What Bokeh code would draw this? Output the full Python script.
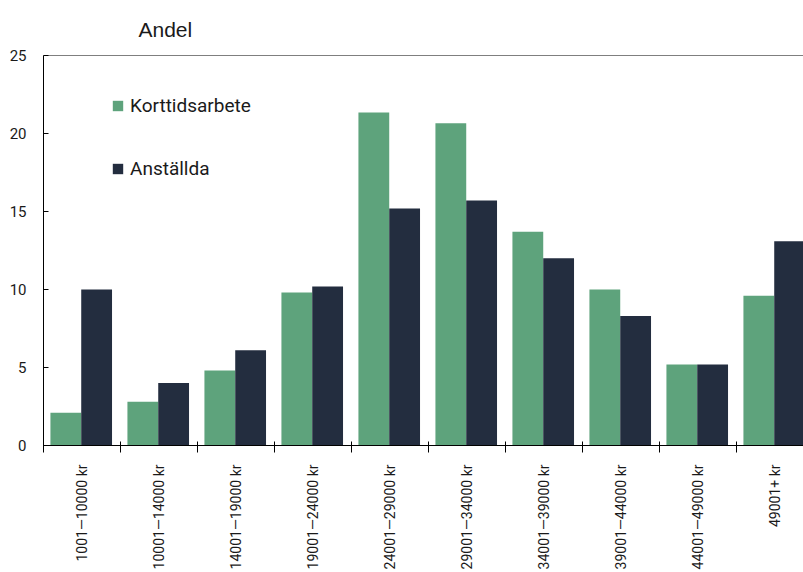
import math
from bokeh.plotting import figure
from bokeh.models import Range1d, LinearAxis, FixedTicker, Legend, LegendItem, ColumnDataSource, Span
from bokeh.embed import file_html
from bokeh.resources import INLINE

categories = ["1001—10000 kr", "10001—14000 kr", "14001—19000 kr", "19001—24000 kr",
              "24001—29000 kr", "29001—34000 kr", "34001—39000 kr", "39001—44000 kr",
              "44001—49000 kr", "49001+ kr"]
korttidsarbete = [2.1, 2.8, 4.8, 9.8, 21.35, 20.65, 13.7, 10.0, 5.2, 9.6]
anstallda = [10.0, 4.0, 6.1, 10.2, 15.2, 15.7, 12.0, 8.3, 5.2, 13.1]
y_ticks = [0, 5, 10, 15, 20, 25]
y_title = "Andel"

GREEN = "#5EA37C"
NAVY = "#232D3F"
TXT = "#1a1a1a"
NARROW = "Roboto"

idx = list(range(len(categories)))
src = ColumnDataSource(dict(
    xg=[i + 0.29 for i in idx],
    xa=[i + 0.69 for i in idx],
    k=korttidsarbete,
    a=anstallda,
))

p = figure(width=803, height=572, x_range=Range1d(0, 760 / 77), y_range=Range1d(0, 25),
           output_backend="svg", toolbar_location=None, x_axis_type=None, y_axis_type=None,
           min_border_left=43, min_border_right=0, min_border_top=55, min_border_bottom=126)
p.outline_line_color = None
p.xgrid.visible = False
p.ygrid.visible = False
p.background_fill_color = "white"
p.border_fill_color = "white"

rg = p.vbar(x="xg", top="k", width=0.40, bottom=0, source=src, fill_color=GREEN, line_color=None)
ra = p.vbar(x="xa", top="a", width=0.40, bottom=0, source=src, fill_color=NAVY, line_color=None)

# y axis
yax = LinearAxis(ticker=FixedTicker(ticks=y_ticks))
yax.major_tick_in = 5
yax.major_tick_out = 0
yax.minor_tick_line_color = None
yax.axis_line_color = "black"
yax.major_tick_line_color = "black"
yax.major_label_text_font = NARROW
yax.major_label_text_font_size = "15px"
yax.major_label_text_color = TXT
yax.major_label_standoff = 17
p.add_layout(yax, "left")

# x axis
xax = LinearAxis(ticker=FixedTicker(ticks=[i + 0.5 for i in idx], minor_ticks=idx + [len(idx)]))
xax.major_label_overrides = {i + 0.5: c for i, c in zip(idx, categories)}
xax.major_tick_in = 0
xax.major_tick_out = 0
xax.minor_tick_in = 4
xax.minor_tick_out = 7
xax.minor_tick_line_color = "black"
xax.axis_line_color = "black"
xax.major_label_orientation = math.pi / 2
xax.major_label_text_font = NARROW
xax.major_label_text_font_size = "14px"
xax.major_label_text_color = TXT
xax.major_label_standoff = 12
p.add_layout(xax, "below")

# top line
p.add_layout(Span(location=25, dimension="width", line_color="black", line_width=1))

p.title.text = y_title
p.title.text_font = "Liberation Sans"
p.title.text_font_size = "21px"
p.title.text_font_style = "normal"
p.title.text_color = TXT
p.title.align = "left"
p.title.offset = 95
p.title.standoff = 30

legend = Legend(items=[LegendItem(label="Korttidsarbete", renderers=[rg]),
                       LegendItem(label="Anställda", renderers=[ra])],
                location=(68, 265))
legend.glyph_width = 13
legend.glyph_height = 13
legend.label_text_font = NARROW
legend.label_text_font_size = "19px"
legend.label_text_color = TXT
legend.label_standoff = 6
legend.spacing = 40
legend.padding = 0
legend.margin = 0
legend.border_line_alpha = 0
legend.background_fill_alpha = 0
p.add_layout(legend)

open("out.html", "w").write(file_html(p, INLINE))
